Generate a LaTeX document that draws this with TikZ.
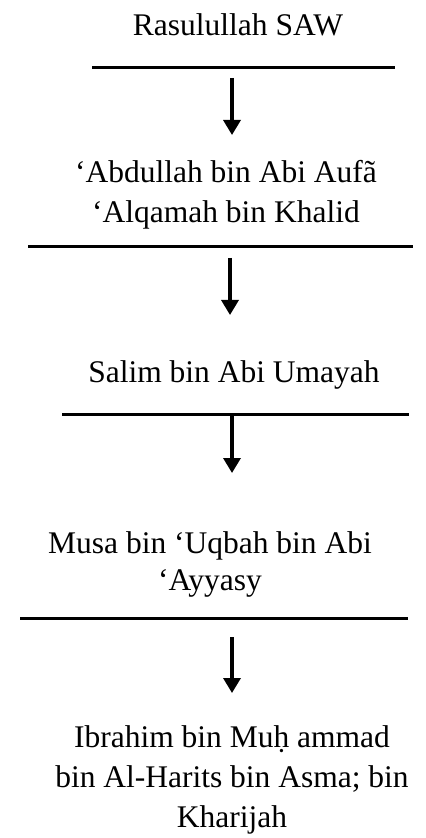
\documentclass[tikz,border=0pt]{standalone}
\usepackage{fontspec}
\setmainfont{Liberation Serif}
\usetikzlibrary{positioning,arrows.meta}
\tikzset{
  namebox/.style={inner sep=0pt, align=center, anchor=base,
                  font=\fontsize{15.75}{20}\selectfont},
  rule/.style={line width=1.5pt},
  arrow/.style={-{Triangle[length=7.5pt,width=8.5pt]}, line width=1.7pt},
}

\begin{document}
\begin{tikzpicture}[x=0.5pt,y=-0.5pt]
  \useasboundingbox (0,0) rectangle (425,838);

  % the names, top to bottom (base = last line)
  \node[namebox] (S0) at (238,36)  {Rasulullah SAW};
  \node[namebox] (S1) at (226,223) {‘Abdullah bin Abi Aufã\\‘Alqamah bin Khalid};
  \node[namebox] (S2) at (234,383) {Salim bin Abi Umayah};
  \node[namebox] (S3) at (210,590) {Musa bin ‘Uqbah bin Abi\\[-1.5pt]‘Ayyasy};
  \node[namebox] (S4) at (232,827) {Ibrahim bin Muḥ ammad\\bin Al-Harits bin Asma; bin\\Kharijah};

  % rules under each name
  \coordinate (L0w) at (92,68);  \coordinate (L0e) at (395,68);
  \coordinate (L1w) at (28,247); \coordinate (L1e) at (413,247);
  \coordinate (L2w) at (62,415); \coordinate (L2e) at (409,415);
  \coordinate (L3w) at (20,618); \coordinate (L3e) at (408,618);
  \foreach \i in {0,...,3}
    \draw[rule] (L\i w) -- (L\i e);

  % arrows down to the next name
  \coordinate (A0) at (232,78);  \coordinate (A0t) at (232,135);
  \coordinate (A1) at (230,258); \coordinate (A1t) at (230,315);
  \coordinate (A2) at (232,415); \coordinate (A2t) at (232,473);
  \coordinate (A3) at (232,637); \coordinate (A3t) at (232,693);
  \foreach \i in {0,...,3}
    \draw[arrow] (A\i) -- (A\i t);
\end{tikzpicture}
\end{document}
